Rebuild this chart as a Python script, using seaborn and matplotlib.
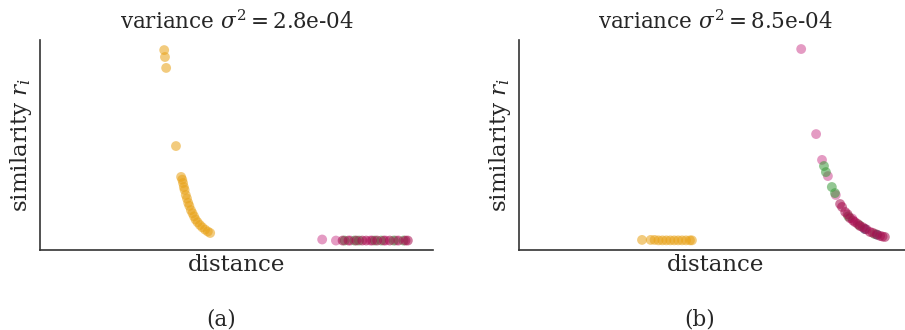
import matplotlib
matplotlib.use("Agg")
import matplotlib.pyplot as plt
import seaborn as sns
import pandas as pd

sns.set_theme(style="white")
plt.rcParams['font.family'] = ['DejaVu Serif']
plt.rcParams['mathtext.fontset'] = 'dejavuserif'

# panel (a): variance 2.8e-04
a_orange_x = [0.316, 0.318, 0.321, 0.346, 0.359, 0.362, 0.364, 0.366, 0.368, 0.371, 0.374,
              0.377, 0.380, 0.384, 0.388, 0.392, 0.396, 0.401, 0.407, 0.413, 0.420, 0.427, 0.433]
a_orange_y = [0.952, 0.919, 0.867, 0.495, 0.348, 0.335, 0.319, 0.300, 0.286, 0.262, 0.245,
              0.225, 0.210, 0.190, 0.175, 0.160, 0.145, 0.132, 0.119, 0.108, 0.097, 0.088, 0.081]
a_pink_x = [0.718, 0.753, 0.790, 0.840, 0.880, 0.905]
a_pink_y = [0.050, 0.045, 0.045, 0.045, 0.045, 0.045]
a_green_x = [0.775, 0.800, 0.812, 0.852, 0.868, 0.900, 0.925]
a_green_y = [0.045, 0.045, 0.045, 0.045, 0.045, 0.045, 0.045]
a_red_x = [0.770, 0.785, 0.805, 0.820, 0.830, 0.845, 0.858, 0.875, 0.890, 0.912, 0.930, 0.936]
a_red_y = [0.045, 0.045, 0.045, 0.045, 0.045, 0.045, 0.045, 0.045, 0.045, 0.045, 0.045, 0.045]

# panel (b): variance 8.5e-04
b_orange_x = [0.313, 0.335, 0.345, 0.355, 0.365, 0.375, 0.385, 0.395, 0.405, 0.415, 0.425, 0.435, 0.440]
b_orange_y = [0.048, 0.048, 0.048, 0.046, 0.046, 0.046, 0.046, 0.046, 0.046, 0.046, 0.046, 0.046, 0.046]
b_pink_x = [0.718, 0.756, 0.771, 0.786, 0.806, 0.848, 0.880]
b_pink_y = [0.957, 0.552, 0.429, 0.352, 0.262, 0.150, 0.100]
b_green_x = [0.776, 0.781, 0.796, 0.804, 0.838, 0.866, 0.905]
b_green_y = [0.400, 0.371, 0.300, 0.271, 0.160, 0.118, 0.076]
b_red_x = [0.817, 0.822, 0.830, 0.836, 0.842, 0.850, 0.855, 0.862, 0.868, 0.875, 0.884,
           0.893, 0.900, 0.910, 0.919, 0.925, 0.931]
b_red_y = [0.219, 0.205, 0.181, 0.170, 0.152, 0.140, 0.133, 0.124, 0.114, 0.108, 0.098,
           0.086, 0.082, 0.074, 0.067, 0.064, 0.062]
b_teal_x = [0.880, 0.912]
b_teal_y = [0.100, 0.072]

variances = ["2.8e-04", "8.5e-04"]
panel_labels = ["(a)", "(b)"]

palette = {"orange": "#E8A115", "pink": "#CE4A93", "green": "#3A9A3A",
           "red": "#A70D4E", "teal": "#2A6A7A"}


def make_df(groups):
    rows = []
    for name, xs, ys in groups:
        for x, y in zip(xs, ys):
            rows.append({"distance": x, "similarity": y, "group": name})
    return pd.DataFrame(rows)


df_a = make_df([("orange", a_orange_x, a_orange_y), ("pink", a_pink_x, a_pink_y),
                ("green", a_green_x, a_green_y), ("red", a_red_x, a_red_y)])
df_b = make_df([("orange", b_orange_x, b_orange_y), ("pink", b_pink_x, b_pink_y),
                ("green", b_green_x, b_green_y), ("teal", b_teal_x, b_teal_y),
                ("red", b_red_x, b_red_y)])

W, H = 905, 330
fig = plt.figure(figsize=(W / 100, H / 100), dpi=100)
ax_a = fig.add_axes([40 / W, 1 - 250 / H, 393 / W, 210 / H])
ax_b = fig.add_axes([519 / W, 1 - 250 / H, 393 / W, 210 / H])

txt = "#262626"
for ax, df, var, lab in zip([ax_a, ax_b], [df_a, df_b], variances, panel_labels):
    sns.scatterplot(data=df, x="distance", y="similarity", hue="group", palette=palette,
                    s=50, alpha=0.55, linewidth=0, legend=False, ax=ax)
    ax.set_xlim(0, 1)
    ax.set_ylim(0, 1)
    ax.set_xticks([])
    ax.set_yticks([])
    ax.set_xlabel("distance", fontsize=16.5, labelpad=3, color=txt)
    ax.set_ylabel("similarity $r_i$", fontsize=16.5, labelpad=4, color=txt)
    ax.set_title(r"variance $\sigma^2 = $" + var, fontsize=15.5, pad=8, color=txt)
    sns.despine(ax=ax)
    for sp in ["left", "bottom"]:
        ax.spines[sp].set_color("#333333")
        ax.spines[sp].set_linewidth(1.2)
    ax.text(0.46, -0.33, lab, transform=ax.transAxes, ha="center", va="center",
            fontsize=15.5, color=txt)

fig.savefig("out.png", dpi=100)
